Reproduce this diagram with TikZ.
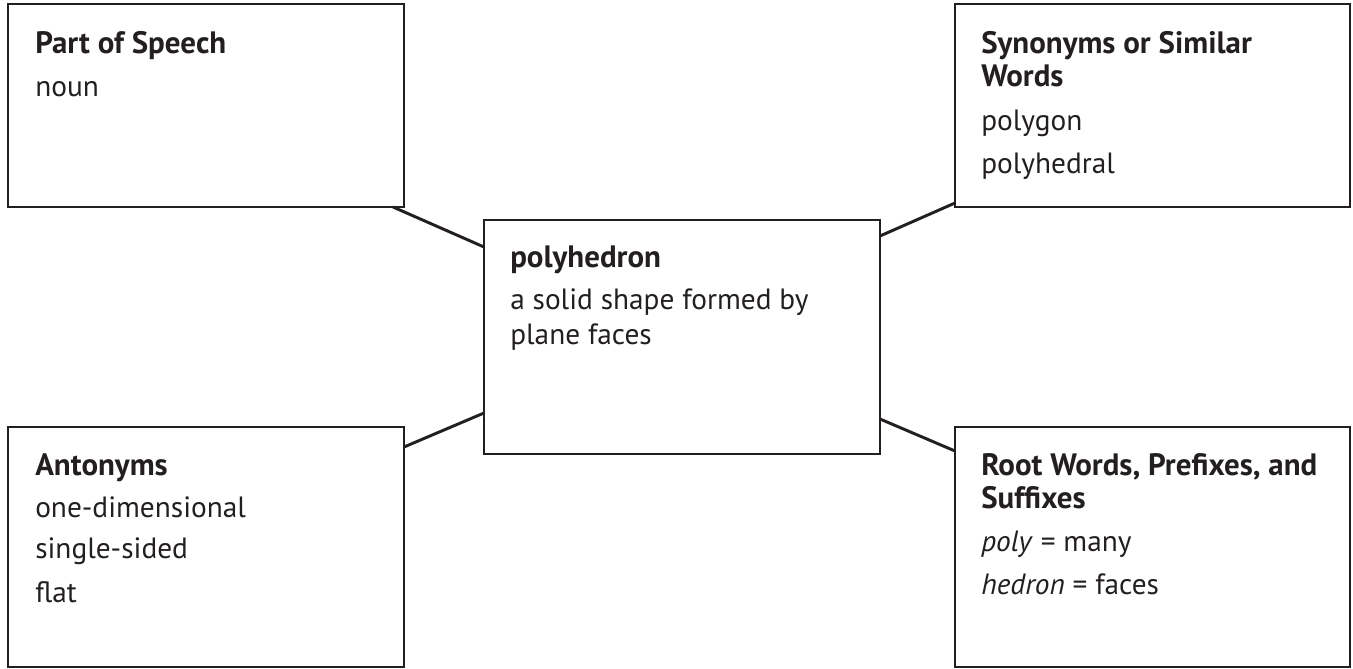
\documentclass[tikz,border=0pt]{standalone}
\usepackage{fontspec}
\setmainfont{PT Sans}
\usetikzlibrary{calc}
\definecolor{ink}{HTML}{231F20}
\tikzset{
  box/.style={draw=ink, line width=2.2pt, rectangle, inner sep=0pt, outer sep=0pt},
  link/.style={draw=ink, line width=2.2pt},
  head/.style={anchor=base west, inner sep=0pt, text=ink, font=\fontsize{23.2pt}{27pt}\selectfont\bfseries},
  body/.style={anchor=base west, inner sep=0pt, text=ink, font=\fontsize{22pt}{27pt}\selectfont}
}
\begin{document}
\begin{tikzpicture}[x=0.75pt,y=-0.75pt]
\useasboundingbox (0,0) rectangle (1353,668);
% boxes
\node[box, minimum width=297pt, minimum height=152.25pt] (tl) at (206,105.5) {};
\node[box, minimum width=296.25pt, minimum height=152.25pt] (tr) at (1152.5,105.5) {};
\node[box, minimum width=297pt, minimum height=175.5pt] (c) at (682,337) {};
\node[box, minimum width=297pt, minimum height=180pt] (bl) at (206,547) {};
\node[box, minimum width=296.25pt, minimum height=180pt] (br) at (1152.5,547) {};
% connectors
\draw[link] ($(tl.south east)+(-11,0)$) -- ($(c.north west)+(0,27)$);
\draw[link] ($(c.north east)+(0,16)$) -- ($(tr.south west)+(0,-4)$);
\draw[link] ($(bl.north east)+(0,20)$) -- ($(c.south west)+(0,-41)$);
\draw[link] ($(c.south east)+(0,-35)$) -- ($(br.north west)+(0,24)$);
% texts: top left
\node[head] (tl1) at ($(tl.north west)+(27,49)$) {Part of Speech};
\node[body] (tl2) at ($(tl.north west)+(27,92)$) {noun};
% top right
\node[head] (tr1) at ($(tr.north west)+(26,49)$) {Synonyms or Similar};
\node[head] (tr2) at ($(tr.north west)+(26,82)$) {Words};
\node[body] (tr3) at ($(tr.north west)+(26,126)$) {polygon};
\node[body] (tr4) at ($(tr.north west)+(26,169)$) {polyhedral};
% center
\node[head] (c1) at ($(c.north west)+(26,47)$) {polyhedron};
\node[body] (c2) at ($(c.north west)+(26,89)$) {a solid shape formed by};
\node[body] (c3) at ($(c.north west)+(26,124)$) {plane faces};
% bottom left
\node[head] (bl1) at ($(bl.north west)+(27,48)$) {Antonyms};
\node[body] (bl2) at ($(bl.north west)+(27,90)$) {one-dimensional};
\node[body] (bl3) at ($(bl.north west)+(27,131)$) {single-sided};
\node[body] (bl4) at ($(bl.north west)+(27,175)$) {flat};
% bottom right
\node[head] (br1) at ($(br.north west)+(26,48)$) {Root Words, Prefixes, and};
\node[head] (br2) at ($(br.north west)+(26,81)$) {Suffixes};
\node[body] (br3) at ($(br.north west)+(26,124)$) {\textit{poly} = many};
\node[body] (br4) at ($(br.north west)+(26,167)$) {\textit{hedron} = faces};
\end{tikzpicture}
\end{document}
